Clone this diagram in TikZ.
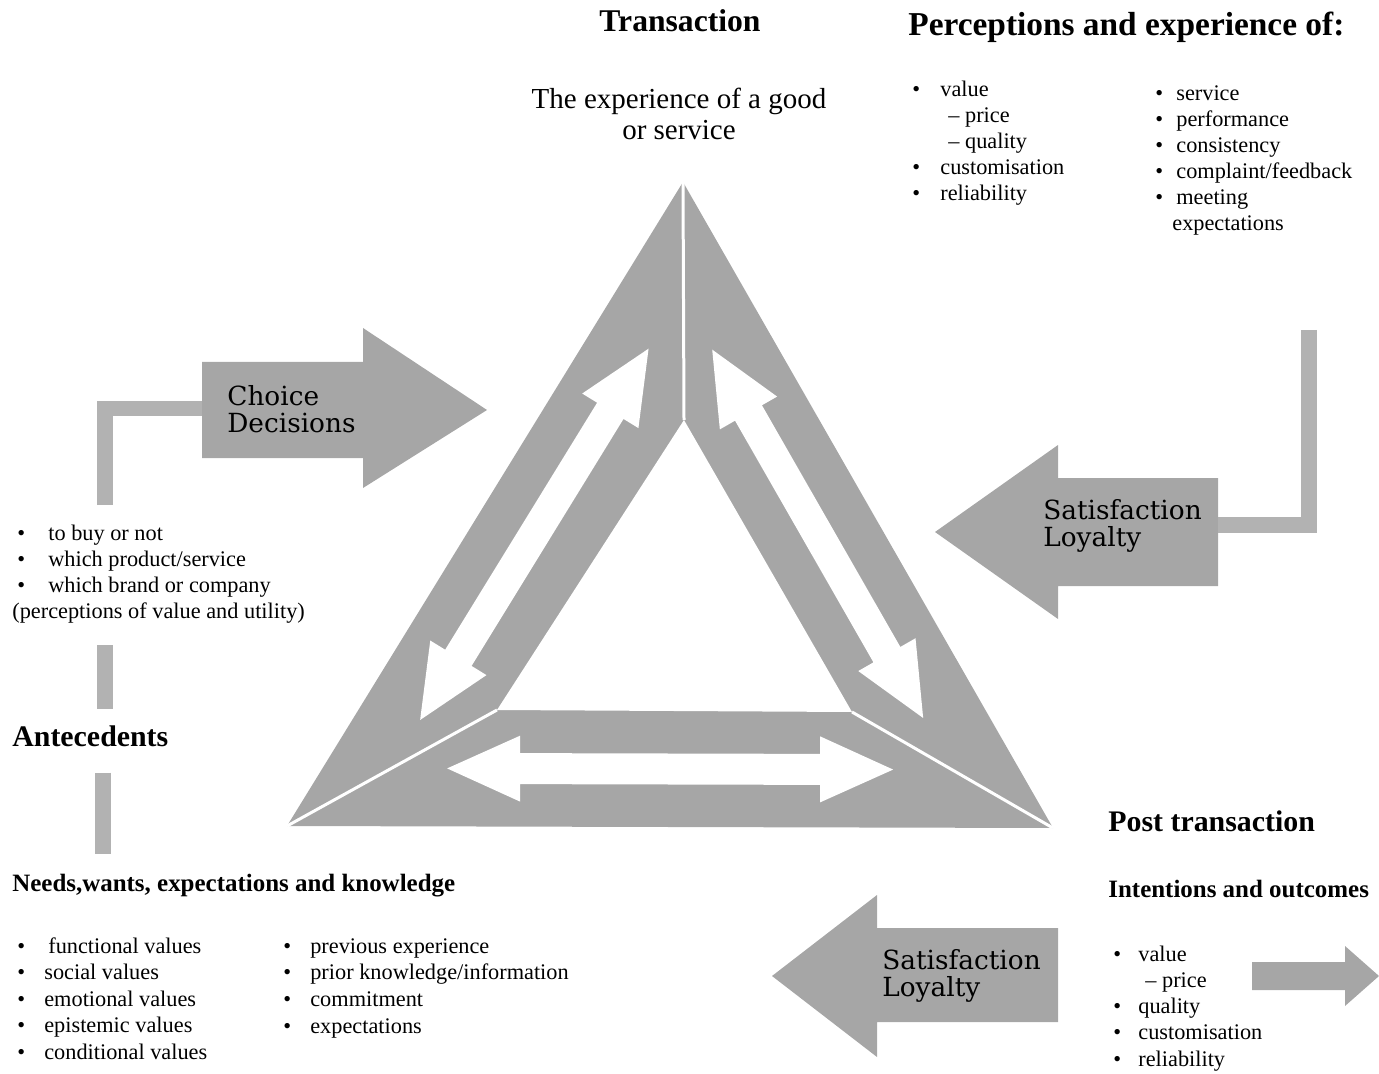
\documentclass[tikz,border=0pt]{standalone}
\usepackage{fontspec}
\setmainfont{Liberation Serif}
\newfontfamily\arrowfont{DejaVu Serif}
\usetikzlibrary{math}

\newlength\pxu
\setlength\pxu{0.02cm}
\newcommand{\bul}[1]{\makebox[#1][l]{\textbullet}}
\newcommand{\dsh}[1]{\hspace*{#1}--\ }

\tikzset{
    band/.style = {fill=black!35},
    bar/.style = {draw=black!30, line width=0.32cm},
    sepline/.style = {draw=white, line width=0.06cm},
    headline/.style = {anchor=base west, inner sep=0pt,
        font=\bfseries\fontsize{18}{21}\selectfont},
    subhead/.style = {anchor=base west, inner sep=0pt,
        font=\bfseries\fontsize{14.2}{17}\selectfont},
    listitem/.style = {anchor=base west, inner sep=0pt,
        font=\fontsize{12.7}{14.75}\selectfont},
    arrowtext/.style = {anchor=west, inner sep=0pt, align=left,
        font=\arrowfont\fontsize{15}{15.5}\selectfont},
}

\begin{document}
\begin{tikzpicture}[x=0.02cm, y=-0.02cm]
    \tikzmath{
        \off = 160;
        \hl = 73;
        \hw = 33;
        \sw = 15.5;
        \cv = -58;
    }
\useasboundingbox (0,0) rectangle (1379,1074);

% triangulo
\coordinate (A) at (683,182);
\coordinate (B) at (287,826);
\coordinate (C) at (1053,828);
\coordinate (A-in) at (684,420);
\coordinate (B-in) at (497,710);
\coordinate (C-in) at (852,712);

\fill[band] (A) -- (B) -- (C) -- cycle;
\fill[white] (A-in) -- (B-in) -- (C-in) -- cycle;
\foreach \p in {A,B,C}
    \draw[sepline] (\p) -- (\p-in);

% flechas dobles en cada lado
\foreach \p/\ang/\len in {A/238.4/756, B/-0.15/766, C/119.8/744.5} {
    \begin{scope}[shift={(\p)}, rotate=\ang]
    \fill[white] (\off,\cv) -- ++(\hl,-\hw) -- ++(0,\hw-\sw) --
        ({\len-\off-\hl},{\cv-\sw}) -- ++(0,\sw-\hw) -- ({\len-\off},\cv) --
        ++(-\hl,\hw) -- ++(0,\sw-\hw) -- ({\off+\hl},{\cv+\sw}) --
        ++(0,\hw-\sw) -- cycle;
    \end{scope}
}

% Choice Decisions
\fill[band] (202,362) -- (363,362) -- (363,328) -- (487,410) --
    (363,488) -- (363,458) -- (202,458) -- cycle;
\coordinate (choice-w) at (202,408.5);
\coordinate (choice-foot) at (105,505);
\draw[bar] (choice-foot) |- (choice-w);
\node[arrowtext] (choice) at (227,409) {Choice\\Decisions};

% Satisfaction (derecha)
\fill[band] (1218,478) -- (1058,478) -- (1058,445) -- (935,532) --
    (1058,619) -- (1058,586) -- (1218,586) -- cycle;
\coordinate (sat-e) at (1218,525);
\coordinate (sat-top) at (1309,330);
\draw[bar] (sat-top) |- (sat-e);
\node[arrowtext] (sat) at (1043,526) {Satisfaction\\Loyalty};

% Satisfaction (abajo)
\fill[band] (1058,928) -- (877,928) -- (877,895) -- (772,976) --
    (877,1057) -- (877,1022) -- (1058,1022) -- cycle;
\node[arrowtext] (sat-post) at (882,976) {Satisfaction\\Loyalty};

% flecha chica
\fill[band] (1252,962) -- (1345,962) -- (1345,946) -- (1379,976) --
    (1345,1006) -- (1345,990) -- (1252,990) -- cycle;

% Transaction
\node[headline, anchor=base] (trans) at (680,32) {Transaction};
\node[anchor=north, align=center, inner sep=0pt,
    font=\fontsize{16.5}{17.6}\selectfont] (good) at (679,88)
    {The experience of a good\\or service};

% Perceptions
\node[headline, font=\bfseries\fontsize{19}{22}\selectfont] (perc) at (908,36)
    {Perceptions and experience of:};
\foreach \t [count=\i from 0] in {\bul{28\pxu}value, \dsh{36\pxu}price,
        \dsh{36\pxu}quality, \bul{28\pxu}customisation, \bul{28\pxu}reliability}
    \node[listitem] (perc-a\i) at (912, {97+26*\i}) {\t};
\foreach \t [count=\i from 0] in {service, performance, consistency,
        complaint/feedback, meeting}
    \node[listitem] (perc-b\i) at (1155, {101+26*\i}) {\bul{21\pxu}\t};
\node[listitem] (perc-b5) at (1172,231) {expectations};

% Choice list
\foreach \t [count=\i from 0] in {to buy or not, which product/service,
        which brand or company}
    \node[listitem] (buy-\i) at (17, {540+26*\i}) {\bul{31\pxu}\t};
\node[listitem] (utility) at (12,618) {(perceptions of value and utility)};

% Antecedents
\node[headline, font=\bfseries\fontsize{17}{20}\selectfont] (antec) at (12,746)
    {Antecedents};
\node[subhead] (needs) at (12,891) {Needs,wants, expectations and knowledge};
\coordinate (bar-x1) at (104.5,0);
\coordinate (bar-x2) at (102.5,0);
\draw[bar, shorten <=0.44cm, shorten >=0.32cm]
    (utility.south -| bar-x1) -- (antec.north -| bar-x1);
\draw[bar, shorten <=0.52cm, shorten >=0.38cm]
    (antec.south -| bar-x2) -- (needs.north -| bar-x2);

\foreach \w/\t [count=\i from 0] in {31/functional values, 27/social values,
        27/emotional values, 27/epistemic values, 27/conditional values}
    \node[listitem] (need-a\i) at (17, {953+26.5*\i}) {\bul{\w\pxu}\t};
\foreach \t [count=\i from 0] in {previous experience,
        prior knowledge/information, commitment, expectations}
    \node[listitem] (need-b\i) at (283, {953+26.7*\i}) {\bul{27\pxu}\t};

% Post transaction
\node[headline, font=\bfseries\fontsize{17}{20}\selectfont] (post) at (1108,831)
    {Post transaction};
\node[subhead] (intent) at (1108,897) {Intentions and outcomes};
\foreach \t [count=\i from 0] in {\bul{25\pxu}value, \dsh{32\pxu}price,
        \bul{25\pxu}quality, \bul{25\pxu}customisation, \bul{25\pxu}reliability}
    \node[listitem] (out-\i) at (1113, {961+26.3*\i}) {\t};

\end{tikzpicture}
\end{document}
